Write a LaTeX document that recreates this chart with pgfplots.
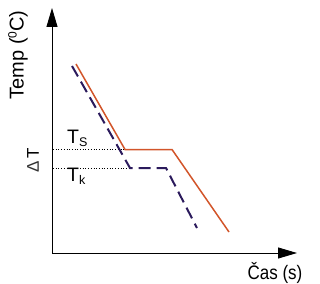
\documentclass[border=0pt]{standalone}
\usepackage{pgfplots}
\pgfplotsset{compat=1.18}
\usepackage{fontspec}
\setmainfont{Liberation Sans}
\usetikzlibrary{arrows.meta}
\definecolor{orng}{HTML}{D2552A}
\definecolor{navy}{HTML}{2B1A5C}
\begin{document}
\begin{tikzpicture}
\begin{axis}[
  x=1pt, y=1pt,
  xmin=52, xmax=297, ymin=30, ymax=275,
  axis lines=left,
  axis line style={line width=0.9pt, -{Triangle[length=19pt,width=11pt]}},
  ticks=none,
  clip=false,
]
\path (axis cs:0,0) rectangle (axis cs:320,283);
\addplot[black, dotted, line width=0.7pt] coordinates {(53,133.5)(125,133.5)};
\addplot[black, dotted, line width=0.7pt] coordinates {(53,115)(133,115)};
\addplot[orng, line width=1.5pt] coordinates {(76,219)(125,133.5)(172,133.5)(229,51)};
\addplot[navy, line width=2pt, dash pattern=on 12pt off 6pt] coordinates {(72,217)(130,115)(166,115)(197,55)};
\node[anchor=base west, inner sep=0pt] at (axis cs:67,140) {\fontsize{19.5}{20}\selectfont T\raisebox{-3pt}{\fontsize{12.5}{13}\selectfont S}};
\node[anchor=base west, inner sep=0pt] at (axis cs:67,102) {\fontsize{19.5}{20}\selectfont T\raisebox{-3pt}{\fontsize{12.5}{13}\selectfont k}};
\node[rotate=90, inner sep=0pt] at (axis cs:33,123) {\fontsize{17}{20}\selectfont {\color{black!80}Δ}\,T};
\node[rotate=90, inner sep=0pt] at (axis cs:18,228) {\fontsize{20}{22}\selectfont Temp (\raisebox{7pt}{\fontsize{12}{13}\selectfont 0}C)};
\node[inner sep=0pt] at (axis cs:275,10.5) {\scalebox{1}[1.15]{\fontsize{17}{18}\selectfont Čas (s)}};
\end{axis}
\end{tikzpicture}
\end{document}
